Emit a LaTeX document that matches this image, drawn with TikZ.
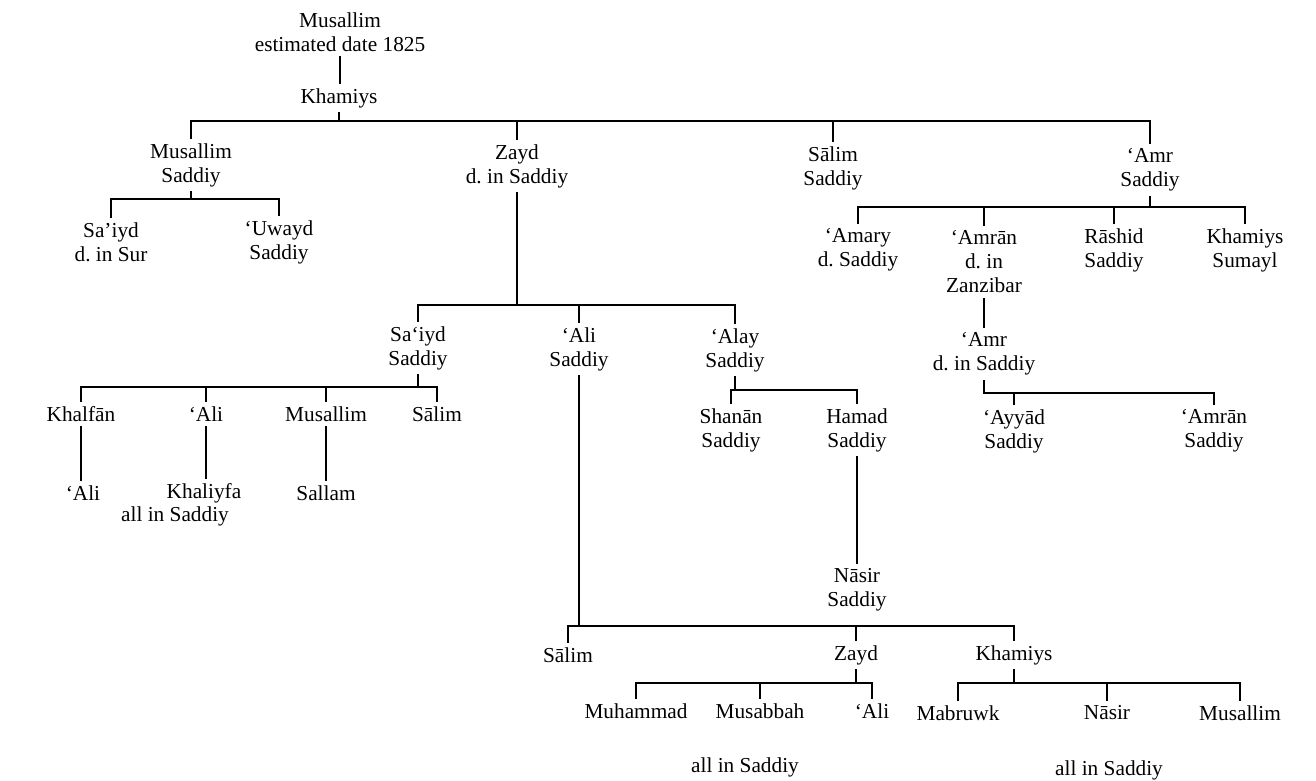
\documentclass[tikz,border=0pt]{standalone}
\usepackage{fontspec}
\setmainfont{Liberation Serif}
\usetikzlibrary{positioning}
\frenchspacing

\tikzset{
  kin/.style={align=center, inner sep=2pt, font=\fontsize{10.65}{12}\selectfont},
  tie/.style={line width=0.7pt}
}

\begin{document}
\begin{tikzpicture}[x=0.5pt, y=-0.5pt]
    \fill[white] (0,0) rectangle (1316,781);
    \useasboundingbox (0,0) rectangle (1316,781);

    % Founder
    \node[kin] (musallim) at (340,32) {Musallim\\estimated date 1825};
    \node[kin] (khamiys) at (339,98) {Khamiys};

    % Sons of Khamiys
    \node[kin] (musSaddiy) at (191,165) {Musallim\\Saddiy};
    \node[kin] (zayd) at (517,166) {Zayd\\d. in Saddiy};
    \node[kin] (salimSaddiy) at (833,168) {Sālim\\Saddiy};
    \node[kin] (amr) at (1150,170) {‘Amr\\Saddiy};

    % Line of Musallim
    \node[kin] (saiydSur) at (111,242) {Sa’iyd\\d. in Sur};
    \node[kin] (uwayd) at (279,242) {‘Uwayd\\Saddiy};

    % Line of Zayd
    \node[kin] (saiyd) at (418,348) {Sa‘iyd\\Saddiy};
    \node[kin] (ali) at (579,349) {‘Ali\\Saddiy};
    \node[kin] (alay) at (735,350) {‘Alay\\Saddiy};

    \node[kin] (khalfan) at (81,414) {Khalfān};
    \node[kin] (aliK) at (206,414) {‘Ali};
    \node[kin] (musallimS) at (326,414) {Musallim};
    \node[kin] (salimS) at (437,414) {Sālim};
    \node[kin] (aliKh) at (83,493) {‘Ali};
    \node[kin] (khaliyfa) at (204,493) {Khaliyfa};
    \node[kin] (sallam) at (326,493) {Sallam};
    \node[kin] (allSaiyd) at (175,516) {all in Saddiy};

    \node[kin] (shanan) at (731,430) {Shanān\\Saddiy};
    \node[kin] (hamad) at (857,430) {Hamad\\Saddiy};
    \node[kin] (nasir) at (857,590) {Nāsir\\Saddiy};

    \node[kin] (salimA) at (568,655) {Sālim};
    \node[kin] (zaydA) at (856,655) {Zayd};
    \node[kin] (khamiysA) at (1014,655) {Khamiys};
    \node[kin] (muhammad) at (636,711) {Muhammad};
    \node[kin] (musabbah) at (760,711) {Musabbah};
    \node[kin] (aliZ) at (872,711) {‘Ali};
    \node[kin] (mabruwk) at (958,713) {Mabruwk};
    \node[kin] (nasirK) at (1107,713) {Nāsir};
    \node[kin] (musallimK) at (1240,713) {Musallim};
    \node[kin] (allZayd) at (745,767) {all in Saddiy};
    \node[kin] (allKhamiys) at (1109,770) {all in Saddiy};

    % Line of 'Amr
    \node[kin] (amary) at (858,250) {‘Amary\\d. Saddiy};
    \node[kin] (amran) at (984,262) {‘Amrān\\d. in\\Zanzibar};
    \node[kin] (rashid) at (1114,250) {Rāshid\\Saddiy};
    \node[kin] (khamiysSum) at (1245,250) {Khamiys\\Sumayl};
    \node[kin] (amrS) at (984,354) {‘Amr\\d. in Saddiy};
    \node[kin] (ayyad) at (1014,431) {‘Ayyād\\Saddiy};
    \node[kin] (amranS) at (1214,431) {‘Amrān\\Saddiy};

    % Bar levels
    \coordinate (barKhamiys) at (0,121);
    \coordinate (barMus) at (0,199);
    \coordinate (barAmr) at (0,207);
    \coordinate (barZayd) at (0,305);
    \coordinate (barSaiyd) at (0,387);
    \coordinate (barAlay) at (0,390);
    \coordinate (barAmrS) at (0,393);
    \coordinate (barAli) at (0,626);
    \coordinate (barGrand) at (0,683);

    % Single descents
    \draw[tie] (musallim.south) -- (musallim.south |- khamiys.north);
    \draw[tie] (khalfan.south) -- (khalfan.south |- aliKh.north);
    \draw[tie] (aliK.south) -- (aliK.south |- khaliyfa.north);
    \draw[tie] (musallimS.south) -- (musallimS.south |- sallam.north);
    \draw[tie] (hamad.south) -- (hamad.south |- nasir.north);
    \draw[tie] (amran.south) -- (amran.south |- amrS.north);

    % Families
    \foreach \kid in {musSaddiy, zayd, salimSaddiy, amr}
        \draw[tie] (khamiys.south) -- (khamiys.south |- barKhamiys) -| (\kid.north);
    \foreach \kid in {saiydSur, uwayd}
        \draw[tie] (musSaddiy.south) -- (musSaddiy.south |- barMus) -| (\kid.north);
    \foreach \kid in {saiyd, ali, alay}
        \draw[tie] (zayd.south) -- (zayd.south |- barZayd) -| (\kid.north);
    \foreach \kid in {khalfan, aliK, musallimS, salimS}
        \draw[tie] (saiyd.south) -- (saiyd.south |- barSaiyd) -| (\kid.north);
    \foreach \kid in {shanan, hamad}
        \draw[tie] (alay.south) -- (alay.south |- barAlay) -| (\kid.north);
    \foreach \kid in {salimA, zaydA, khamiysA}
        \draw[tie] (ali.south) -- (ali.south |- barAli) -| (\kid.north);
    \foreach \kid in {muhammad, musabbah, aliZ}
        \draw[tie] (zaydA.south) -- (zaydA.south |- barGrand) -| (\kid.north);
    \foreach \kid in {mabruwk, nasirK, musallimK}
        \draw[tie] (khamiysA.south) -- (khamiysA.south |- barGrand) -| (\kid.north);
    \foreach \kid in {amary, amran, rashid, khamiysSum}
        \draw[tie] (amr.south) -- (amr.south |- barAmr) -| (\kid.north);
    \foreach \kid in {ayyad, amranS}
        \draw[tie] (amrS.south) -- (amrS.south |- barAmrS) -| (\kid.north);
\end{tikzpicture}
\end{document}
